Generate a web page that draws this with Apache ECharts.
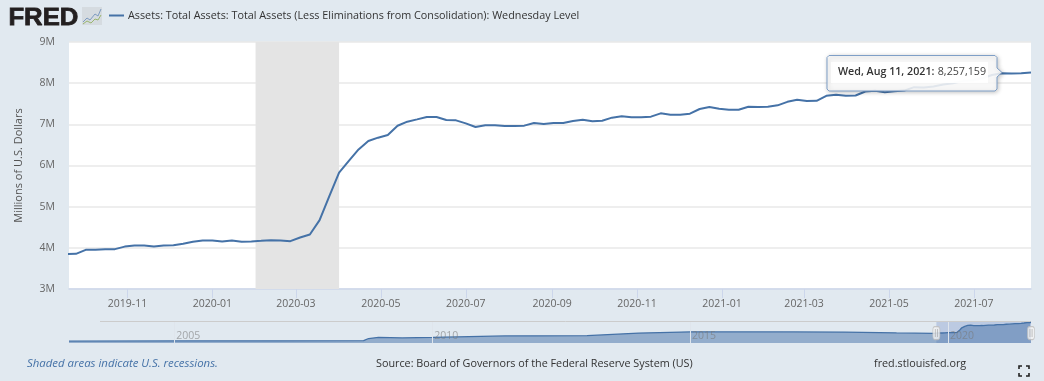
<!DOCTYPE html>
<html>
<head>
<meta charset="utf-8">
<style>html,body{margin:0;padding:0;background:#e1e9f0}#c{width:1044px;height:381px}</style>
<script src="https://cdn.jsdelivr.net/npm/echarts@6/dist/echarts.min.js"></script>
</head>
<body>
<div id="c"></div>
<script>
var seriesName = 'Assets: Total Assets: Total Assets (Less Eliminations from Consolidation): Wednesday Level';
// Wednesday dates, one week apart: first date and count keep the list short
var weeklyValues = [
3.85,3.855,3.951,3.951,3.968,3.968,4.03,4.057,4.057,4.032,4.057,4.065,4.097,4.146,4.178,4.178,4.154,4.178,4.146,4.154,
4.17,4.187,4.178,4.162,4.25,4.324,4.673,5.257,5.825,6.11,6.39,6.595,6.676,6.74,6.965,7.065,
7.121,7.178,7.178,7.105,7.097,7.024,6.935,6.976,6.976,6.96,6.96,6.968,7.032,7.008,7.032,7.032,7.081,7.113,7.073,7.089,
7.162,7.194,7.17,7.17,7.186,7.267,7.235,7.235,7.259,7.372,7.421,7.38,7.356,7.356,7.429,7.421,7.429,7.461,
7.547,7.596,7.564,7.571,7.692,7.717,7.692,7.70,7.797,7.814,7.782,7.806,7.82,7.903,7.893,7.92,7.966,8.0,8.05,8.07,8.12,8.2,8.24,8.235,8.24,8.257159
];
var firstWeek = '2019-09-18';
var pastDates = ['2002-12-18','2005-01-05','2007-01-03','2008-09-03','2008-10-08','2008-12-17','2009-06-03','2010-01-06','2011-06-01','2012-01-04','2013-01-02','2014-01-01','2015-01-07','2017-01-04','2018-01-03','2019-01-02'];
var pastValues = [0.72,0.82,0.88,0.93,1.8,2.25,2.05,2.25,2.85,2.9,2.95,4.0,4.5,4.45,4.4,4.05];
var recessionBand = ['2020-02-01','2020-04-01'];
var viewRange = ['2019-09-20','2021-08-11'];
var navRange = ['2002-12-18','2021-08-11'];
var navSelection = ['2019-10-11','2021-08-11'];
var mainTicks = ['2019-11-01','2020-01-01','2020-03-01','2020-05-01','2020-07-01','2020-09-01','2020-11-01','2021-01-01','2021-03-01','2021-05-01','2021-07-01'];
var navTicks = ['2005-01-01','2010-01-01','2015-01-01','2020-01-01'];

function ms(s){ return Date.parse(s + 'T00:00:00Z'); }
var DAY = 86400000;
var weeklyPoints = weeklyValues.map(function(v,i){ return [ms(firstWeek)+i*7*DAY, v]; });
var pastPoints = pastDates.map(function(d,i){ return [ms(d), pastValues[i]]; });
var navPoints = pastPoints.concat(weeklyPoints);
function pad(n){ return (n<10?'0':'')+n; }

var BLUE = '#4572A7';
var fontName = '"Open Sans"';

var chart = echarts.init(document.getElementById('c'), null, {renderer:'canvas'});
chart.setOption({
  animation:false,
  useUTC:true,
  backgroundColor:'#e1e9f0',
  textStyle:{fontFamily:fontName},
  legend:{
    left:109, top:10, padding:0, itemGap:0,
    itemWidth:15, itemHeight:2,
    data:[{name:seriesName, icon:'rect'}],
    textStyle:{fontFamily:fontName, fontSize:10.8, color:'#333', padding:[0,0,0,-1]},
    selectedMode:false
  },
  grid:[
    {left:69, width:962, top:42, height:247, show:true, backgroundColor:'#fff', borderWidth:0},
    {left:69, width:962, top:322, height:21, show:false}
  ],
  xAxis:[
    {type:'value', gridIndex:0, min:ms(viewRange[0]), max:ms(viewRange[1]),
     axisLine:{show:true, onZero:false, lineStyle:{color:'#ccd6eb', width:1.5}},
     axisTick:{show:true, length:9, lineStyle:{color:'#ccd6eb'}, customValues:mainTicks.map(ms)},
     axisLabel:{color:'#666', fontSize:10.5, margin:10, fontFamily:fontName, hideOverlap:false, showMinLabel:true, showMaxLabel:true,
       customValues:mainTicks.map(ms),
       formatter:function(v){ var d=new Date(v); return d.getUTCFullYear()+'-'+pad(d.getUTCMonth()+1); }},
     splitLine:{show:false}},
    {type:'value', gridIndex:1, min:ms(navRange[0]), max:ms(navRange[1]), z:6,
     axisLine:{show:false, onZero:false},
     axisTick:{show:true, inside:true, length:21, lineStyle:{color:'#dfe5ec'}, customValues:navTicks.map(ms)},
     axisLabel:{inside:true, color:'rgba(120,120,120,0.6)', fontSize:10.5, align:'left', margin:1, padding:[0,0,0,2], fontFamily:fontName,
       customValues:navTicks.map(ms),
       formatter:function(v){ return String(new Date(v).getUTCFullYear()); }},
     splitLine:{show:false}}
  ],
  yAxis:[
    {type:'value', gridIndex:0, min:3, max:9, interval:1,
     name:'Millions of U.S. Dollars', nameLocation:'middle', nameGap:45, nameRotate:90,
     nameTextStyle:{color:'#555', fontSize:11, fontFamily:fontName},
     axisLine:{show:false}, axisTick:{show:false},
     axisLabel:{color:'#666', fontSize:10.5, margin:14, fontFamily:fontName, formatter:'{value}M'},
     splitLine:{lineStyle:{color:'#e9e9e9', width:1.5}}},
    {type:'value', gridIndex:1, min:0, max:8.45, show:false, splitLine:{show:false}}
  ],
  series:[
    {name:seriesName, type:'line', xAxisIndex:0, yAxisIndex:0, data:weeklyPoints,
     showSymbol:false, symbol:'none', smooth:false, clip:true, z:3,
     lineStyle:{color:BLUE, width:2}, itemStyle:{color:BLUE},
     markArea:{silent:true, itemStyle:{color:'#e4e4e4', opacity:1},
       data:[[{xAxis:ms(recessionBand[0])},{xAxis:ms(recessionBand[1])}]]}},
    {name:'navigator', type:'line', xAxisIndex:1, yAxisIndex:1, data:navPoints,
     showSymbol:false, symbol:'none', z:2,
     lineStyle:{color:BLUE, width:1.3}, itemStyle:{color:BLUE},
     areaStyle:{color:BLUE, opacity:0.5}},
    {name:'selection', type:'line', xAxisIndex:1, yAxisIndex:1, data:[], z:4,
     markArea:{silent:true, itemStyle:{color:'rgba(102,133,194,0.3)'},
       data:[[{xAxis:ms(navSelection[0])},{xAxis:ms(navSelection[1])}]]}},
    {name:'handles', type:'scatter', xAxisIndex:1, yAxisIndex:1, z:7, silent:true,
     data:[[ms(navSelection[0]),4.0],[ms(navSelection[1]),4.0]],
     symbol:'roundRect', symbolSize:[7,13],
     itemStyle:{color:'#f2f2f2', borderColor:'#bbb', borderWidth:1}},
    {name:'handleGrips', type:'scatter', xAxisIndex:1, yAxisIndex:1, z:8, silent:true,
     data:[[ms(navSelection[0]),4.0],[ms(navSelection[1]),4.0]],
     symbol:'path://M0 0H1V10H0ZM2.5 0H3.5V10H2.5Z', symbolSize:[3,8], symbolKeepAspect:false,
     itemStyle:{color:'#aaa'}}
  ],
  graphic:[
    {type:'text', left:8, top:6, z:20, scaleX:1.07, style:{text:'FRED', fontFamily:'"Liberation Sans"', fontWeight:'bold', fontSize:24, fill:'#231f20', stroke:'#231f20', lineWidth:0.8}},
    {type:'rect', shape:{x:82,y:7,width:20,height:18}, z:20, style:{fill:'#d5dbe0'}},
    {type:'polyline', shape:{points:[[83,22],[87,18],[90,20],[95,14],[98,16],[101,9]]}, z:21, style:{stroke:'#7d9bc0',fill:'none',lineWidth:1}},
    {type:'polyline', shape:{points:[[83,24],[87,21],[91,23],[95,19],[98,20],[101,15]]}, z:21, style:{stroke:'#9ab66f',fill:'none',lineWidth:1}},
    {type:'line', shape:{x1:100,y1:321.5,x2:1031,y2:321.5}, z:1, style:{stroke:'#ccc',lineWidth:1}},
    {type:'polygon', z:30,
     shape:{points:[[829,55.5],[995,55.5],[997,57.5],[997,68],[1002,72.5],[997,77],[997,89],[995,91],[829,91],[827,89],[827,57.5]]},
     style:{fill:'rgba(255,255,255,0.85)', stroke:'#7f9fc7', lineWidth:1, shadowBlur:4, shadowColor:'rgba(0,0,0,0.25)', shadowOffsetX:1, shadowOffsetY:1}},
    {type:'rect', shape:{x:831,y:62,width:157,height:21}, z:31, style:{fill:'rgba(255,255,255,0.9)'}},
    {type:'text', left:838, top:66, z:32, style:{
      text:'{b|Wed, Aug 11, 2021:} {n|8,257,159}',
      rich:{b:{fontFamily:fontName,fontWeight:600,fontSize:10.7,fill:'#333',color:'#333'},n:{fontFamily:fontName,fontSize:10.7,fill:'#444',color:'#444'}}}},
    {type:'text', left:27, top:358, z:20, style:{text:'Shaded areas indicate U.S. recessions.', fontFamily:fontName, fontStyle:'italic', fontSize:11.4, fill:'#4572A7'}},
    {type:'text', left:376, top:358, z:20, style:{text:'Source: Board of Governors of the Federal Reserve System (US)', fontFamily:fontName, fontSize:10.8, fill:'#333'}},
    {type:'text', left:874, top:358, z:20, style:{text:'fred.stlouisfed.org', fontFamily:fontName, fontSize:10.8, fill:'#333'}},
    {type:'polyline', z:20, shape:{points:[[1019,369],[1019,366],[1022,366]]}, style:{stroke:'#222',fill:'none',lineWidth:1.6}},
    {type:'polyline', z:20, shape:{points:[[1026,366],[1029,366],[1029,369]]}, style:{stroke:'#222',fill:'none',lineWidth:1.6}},
    {type:'polyline', z:20, shape:{points:[[1019,373],[1019,376],[1022,376]]}, style:{stroke:'#222',fill:'none',lineWidth:1.6}},
    {type:'polyline', z:20, shape:{points:[[1026,376],[1029,376],[1029,373]]}, style:{stroke:'#222',fill:'none',lineWidth:1.6}}
  ]
});
</script>
</body>
</html>
